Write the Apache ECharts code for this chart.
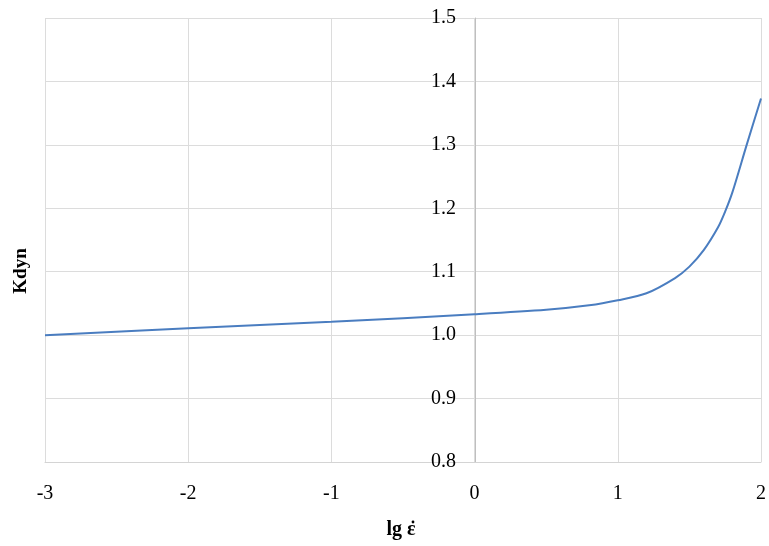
<!DOCTYPE html>
<html>
<head>
<meta charset="utf-8">
<script src="https://cdn.jsdelivr.net/npm/echarts@6/dist/echarts.min.js"></script>
<style>
  html, body { margin: 0; padding: 0; background: #fff; }
  #chart { width: 769px; height: 546px; }
</style>
</head>
<body>
<div id="chart"></div>
<script>
// lg of strain rate vs dynamic factor
const lgRate = [-3, -2, -1, 0, 0.5, 0.8, 1.0, 1.2, 1.4, 1.5, 1.6, 1.7, 1.75, 1.8, 1.9, 2.0];
const kdyn = [1.000, 1.011, 1.021, 1.033, 1.040, 1.047, 1.055, 1.066, 1.090, 1.108, 1.134, 1.170, 1.195, 1.225, 1.300, 1.373];
const xTicks = [-3, -2, -1, 0, 1, 2];
const yTicks = [0.8, 0.9, 1.0, 1.1, 1.2, 1.3, 1.4, 1.5];

const chart = echarts.init(document.getElementById("chart"));
const font = "'Liberation Serif', 'Times New Roman', serif";

const option = {
  animation: false,
  grid: { left: 45, right: 7, top: 18, bottom: 84 },
  xAxis: {
    type: "value",
    min: xTicks[0],
    max: xTicks[xTicks.length - 1],
    interval: 1,
    axisLine: { show: true, onZero: false, lineStyle: { color: "#d4d4d4", width: 1 } },
    axisTick: { show: false },
    axisLabel: { color: "#000", fontFamily: font, fontSize: 20, margin: 22 },
    splitLine: { show: true, lineStyle: { color: "#dcdcdc", width: 1 } },
  },
  yAxis: {
    type: "value",
    min: yTicks[0],
    max: yTicks[yTicks.length - 1],
    interval: 0.1,
    position: "left",
    offset: -430, // sits on x = 0
    axisLine: { show: true, onZero: false, lineStyle: { color: "#bfbfbf", width: 1 } },
    axisTick: { show: false },
    axisLabel: {
      color: "#000",
      fontFamily: font,
      fontSize: 20,
      margin: 19,
      formatter: v => v.toFixed(1),
    },
    splitLine: { show: true, lineStyle: { color: "#dcdcdc", width: 1 } },
  },
  graphic: [
    {
      type: "text",
      x: 21,
      y: 271,
      rotation: Math.PI / 2,
      style: { text: "Kdyn", font: "bold 19px " + font, fill: "#000", align: "center", verticalAlign: "middle" },
    },
    {
      type: "text",
      x: 401,
      y: 530,
      style: { text: "lg \u03B5", font: "bold 20px " + font, fill: "#000", align: "center", verticalAlign: "middle" },
    },
    {
      type: "circle",
      shape: { cx: 413, cy: 522, r: 1.4 },
      style: { fill: "#000" },
    },
  ],
  series: [
    {
      type: "line",
      data: lgRate.map((x, i) => [x, kdyn[i]]),
      smooth: 0.3,
      symbol: "none",
      lineStyle: { color: "#4a7dc0", width: 2 },
    },
  ],
};

chart.setOption(option);
</script>
</body>
</html>
